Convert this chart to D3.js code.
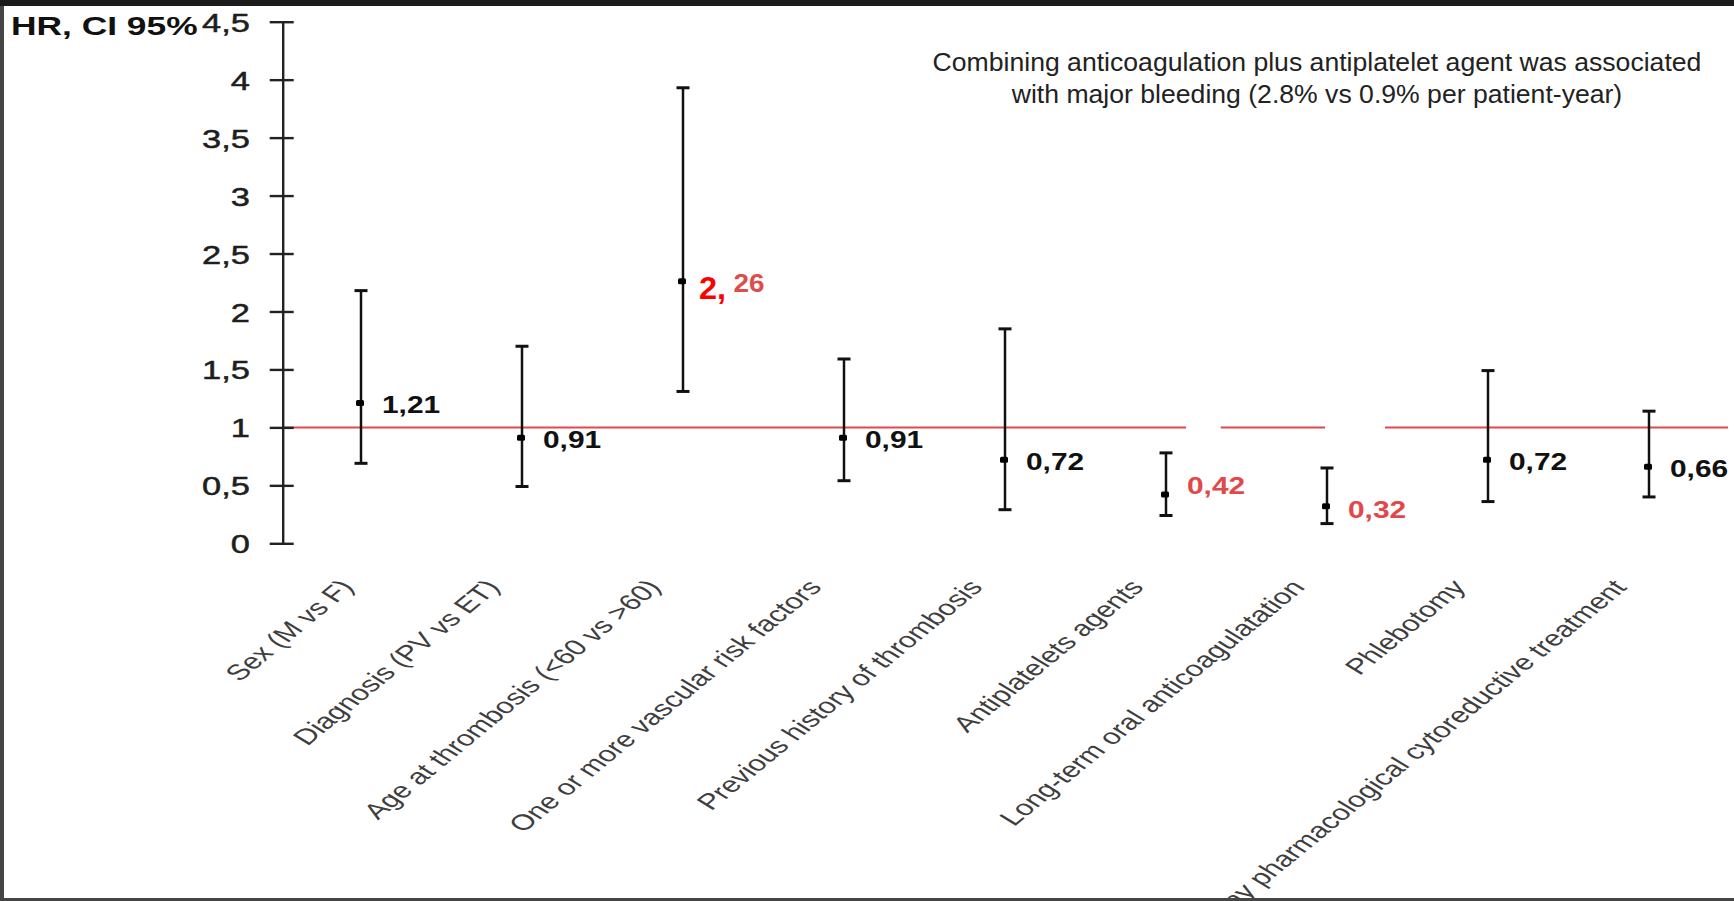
<!DOCTYPE html>
<html>
<head>
<meta charset="utf-8">
<script src="https://cdn.jsdelivr.net/npm/d3@7"></script>
<style>
  html, body { margin: 0; padding: 0; background: #fff; overflow: hidden; }
  svg { display: block; }
</style>
</head>
<body>
<svg id="chart" width="1734" height="901"></svg>
<script>
// ---- data ----
const categories = [
  "Sex (M vs F)",
  "Diagnosis (PV vs ET)",
  "Age at thrombosis (<60 vs >60)",
  "One or more vascular risk factors",
  "Previous history of thrombosis",
  "Antiplatelets agents",
  "Long-term oral anticoagulatation",
  "Phlebotomy",
  "Any pharmacological cytoreductive treatment"
];
const hazardRatio = [1.21, 0.91, 2.26, 0.91, 0.72, 0.42, 0.32, 0.72, 0.66];
const ciLower     = [0.69, 0.49, 1.31, 0.54, 0.29, 0.24, 0.17, 0.36, 0.40];
const ciUpper     = [2.18, 1.70, 3.93, 1.59, 1.85, 0.78, 0.65, 1.49, 1.14];
const yTickValues = [0, 0.5, 1, 1.5, 2, 2.5, 3, 3.5, 4, 4.5];
const referenceHR = 1;
const yAxisTitle  = "HR, CI 95%";
const noteLines   = [
  "Combining anticoagulation plus antiplatelet agent was associated",
  "with major bleeding (2.8% vs 0.9% per patient-year)"
];

// ---- layout ----
const W = 1734, H = 901;
const axisX = 282.7;
const labelNudge = [0, 0, 0, 0, 0, -11, 2, 0, 0];      // vertical tweak of value labels
const categoryNudge = [15, 0, 0, 0, 0, 0, 0, 0, 0];    // horizontal tweak of axis labels
const textStretch = { tick: 1.3, value: 1.3, title: 1.36, category: 1.42 };
const FONT = "'Liberation Sans', Arial, sans-serif";

const svg = d3.select("#chart");
svg.append("rect").attr("width", W).attr("height", H).attr("fill", "#fff");

const x = d3.scalePoint().domain(categories).range([361, 1649]);
const y = d3.scaleLinear().domain([0, 4.5]).range([543.3, 21.7]);

const comma = d3.formatLocale({ decimal: ",", thousands: ".", grouping: [3], currency: ["", ""] });
const tickFmt = comma.format("~g");
const valueFmt = comma.format(".2f");

const rows = categories.map((c, i) => ({
  cat: c, hr: hazardRatio[i], lo: ciLower[i], hi: ciUpper[i], i,
  significant: ciUpper[i] < referenceHR || ciLower[i] > referenceHR
}));

// ---- reference line at HR = 1 ----
svg.append("line")
  .attr("x1", axisX).attr("x2", 1728)
  .attr("y1", y(referenceHR)).attr("y2", y(referenceHR))
  .attr("stroke", "#e2484c").attr("stroke-width", 2);

// erased stretches of the reference line
const step = x.step();
[[5, 0.125, 0.34], [6, -0.012, 0.36]].forEach(([k, a, b]) => {
  const x0 = x(categories[k]);
  svg.append("rect")
    .attr("x", x0 + a * step).attr("width", (b - a) * step)
    .attr("y", y(referenceHR) - 4).attr("height", 8)
    .attr("fill", "#fff");
});

// ---- y axis ----
const yAxis = d3.axisLeft(y)
  .tickValues(yTickValues)
  .tickFormat(tickFmt)
  .tickSizeInner(13)
  .tickSizeOuter(0)
  .tickPadding(19);

const gAxis = svg.append("g")
  .attr("transform", `translate(${axisX},0)`)
  .call(yAxis);

gAxis.select(".domain").attr("stroke", "#222").attr("stroke-width", 2.4);
gAxis.selectAll(".tick line").attr("x1", 11).attr("stroke", "#222").attr("stroke-width", 2.4);
gAxis.selectAll(".tick text")
  .attr("fill", "#1e1e1e")
  .attr("stroke", "#1e1e1e")
  .attr("stroke-width", 0.5)
  .attr("font-family", FONT)
  .attr("font-size", 26.5)
  .attr("text-anchor", "end")
  .attr("x", null)
  .attr("dy", "0.36em")
  .attr("transform", `translate(-32.7,0) scale(${textStretch.tick},1)`);

svg.append("text")
  .attr("transform", `translate(11,35) scale(${textStretch.title},1)`)
  .attr("font-family", FONT)
  .attr("font-weight", "bold")
  .attr("font-size", 26)
  .attr("fill", "#111")
  .text(yAxisTitle);

// ---- confidence intervals ----
const gBars = svg.append("g");
const capHalf = 6.5;

gBars.selectAll("line.ci")
  .data(rows).join("line")
  .attr("class", "ci")
  .attr("x1", d => x(d.cat)).attr("x2", d => x(d.cat))
  .attr("y1", d => y(d.hi)).attr("y2", d => y(d.lo))
  .attr("stroke", "#111").attr("stroke-width", 2.5);

["hi", "lo"].forEach(key => {
  gBars.selectAll(`line.cap-${key}`)
    .data(rows).join("line")
    .attr("class", `cap-${key}`)
    .attr("x1", d => x(d.cat) - capHalf).attr("x2", d => x(d.cat) + capHalf)
    .attr("y1", d => y(d[key])).attr("y2", d => y(d[key]))
    .attr("stroke", "#111").attr("stroke-width", 3);
});

gBars.selectAll("rect.hr")
  .data(rows).join("rect")
  .attr("class", "hr")
  .attr("x", d => x(d.cat) - 5).attr("y", d => y(d.hr) - 3)
  .attr("width", 8).attr("height", 6)
  .attr("rx", 1.5)
  .attr("fill", "#000");

// ---- value labels ----
const gLabels = svg.append("g")
  .attr("font-family", FONT)
  .attr("font-weight", "bold");

rows.forEach(d => {
  const [intPart, decPart] = valueFmt(d.hr).split(",");
  if (d.significant && d.lo > referenceHR) {
    // significant risk increase: integer part emphasised
    const t = gLabels.append("text")
      .attr("transform", `translate(${x(d.cat) + 16},${y(d.hr) + 17.5}) scale(1.05,1)`);
    t.append("tspan").attr("font-size", 31).attr("fill", "#ff0000").text(intPart + ",");
    t.append("tspan").attr("font-size", 26.5).attr("fill", "#e04b4b")
      .attr("dx", 7).attr("dy", -7).text(decPart);
  } else {
    gLabels.append("text")
      .attr("transform", `translate(${x(d.cat) + 21},${y(d.hr) + 10 + labelNudge[d.i]}) scale(${textStretch.value},1)`)
      .attr("font-size", 23)
      .attr("fill", d.significant ? "#e2474a" : "#111")
      .text(intPart + "," + decPart);
  }
});

// ---- category labels ----
svg.append("g")
  .attr("font-family", FONT)
  .attr("font-size", 22)
  .attr("fill", "#3e3e3e")
  .selectAll("text")
  .data(categories).join("text")
  .attr("text-anchor", "end")
  .attr("transform", (c, i) => `translate(${x(c) - 21 + categoryNudge[i]},588) scale(${textStretch.category},1) rotate(-49.3)`)
  .text(c => c);

// ---- note ----
svg.append("text")
  .attr("font-family", FONT)
  .attr("font-size", 26.6)
  .attr("fill", "#222")
  .attr("text-anchor", "middle")
  .selectAll("tspan")
  .data(noteLines).join("tspan")
  .attr("x", 1317)
  .attr("y", (d, i) => 71 + i * 32)
  .text(d => d);

// ---- frame edges ----
svg.append("rect").attr("x", 0).attr("y", 0).attr("width", W).attr("height", 6).attr("fill", "#1b1b1b");
svg.append("rect").attr("x", 0).attr("y", 6).attr("width", 4).attr("height", H - 6).attr("fill", "#454545");
svg.append("rect").attr("x", 0).attr("y", 898).attr("width", W).attr("height", 3).attr("fill", "#454545");
</script>
</body>
</html>
